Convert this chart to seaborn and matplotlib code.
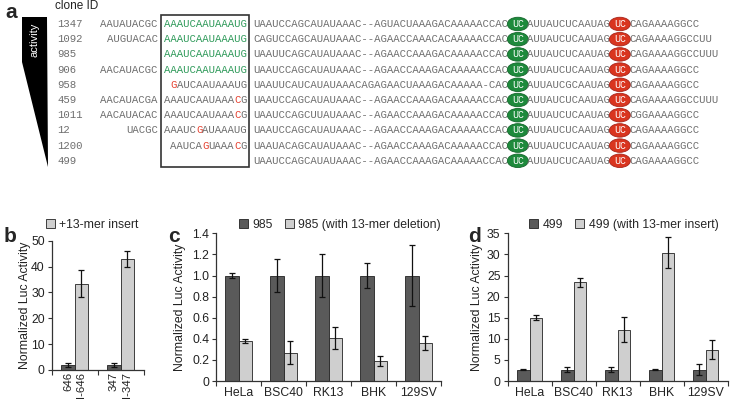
import numpy as np
import pandas as pd
import matplotlib
matplotlib.use("Agg")
import matplotlib.pyplot as plt
import seaborn as sns
from matplotlib.patches import Ellipse, Rectangle, Polygon, Patch
from matplotlib.ticker import FuncFormatter

# =========================
# DATA - panel a (alignment)
# =========================
clone_ids = ["1347", "1092", "985", "906", "958", "459", "1011", "12", "1200", "499"]
prefixes = ["AAUAUACGC", "AUGUACAC", "", "AACAUACGC", "", "AACAUACGA",
            "AACAUACAC", "UACGC", "", ""]
inserts = ["AAAUCAAUAAAUG", "AAAUCAAUAAAUG", "AAAUCAAUAAAUG", "AAAUCAAUAAAUG",
           "GAUCAAUAAAUG", "AAAUCAAUAAACG", "AAAUCAAUAAACG", "AAAUCGAUAAAUG",
           "AAUCAGUAAACG", ""]
insert_green = [True, True, True, True, False, False, False, False, False, False]
insert_red_pos = [[], [], [], [], [0], [11], [11], [5], [5, 10], []]
seq_a = ["UAAUCCAGCAUAUAAAC--AGUACUAAAGACAAAAACCAC",
         "CAGUCCAGCAUAUAAAC--AGAACCAAACACAAAAACCAC",
         "UAAUUCAGCAUAUAAAC--AGAACCAAAGACAAAAACCAC",
         "UAAUCCAGCAUAUAAAC--AGAACCAAAGACAAAAACCAC",
         "UAAUUCAUCAUAUAAACAGAGAACUAAAGACAAAAA-CAC",
         "UAAUCCAGCAUAUAAAC--AGAACCAAAGACAAAAACCAC",
         "UAAUCCAGCUUAUAAAC--AGAACCAAAGACAAAAACCAC",
         "UAAUCCAGCAUAUAAAC--AGAACCAAAGACAAAAACCAC",
         "UAAUACAGCAUAUAAAC--AGAACCAAAGACAAAAACCAC",
         "UAAUCCAGCAUAUAAAC--AGAACCAAAGACAAAAACCAC"]
seq_b = ["AUUAUCUCAAUAG"] * 4 + ["AUUAUCGCAAUAG"] + ["AUUAUCUCAAUAG"] * 5
seq_c = ["CAGAAAAGGCC", "CAGAAAAGGCCUU", "CAGAAAAGGCCUUU", "CAGAAAAGGCC",
         "CAGAAAAGGCC", "CAGAAAAGGCCUUU", "CGGAAAAGGCC", "CAGAAAAGGCC",
         "CAGAAAAGGCC", "CAGAAAAGGCC"]

# =========================
# DATA - panels b, c, d
# =========================
b_groups = ["646", "347"]
b_tick_labels = ["646", "I-646", "347", "I-347"]
b_series = ["wt", "+13-mer insert"]
b_wt = [2.0, 2.0]
b_wt_err = [0.9, 0.9]
b_ins = [33.3, 43.0]
b_ins_err = [5.2, 3.2]

cells = ["HeLa", "BSC40", "RK13", "BHK", "129SV"]

c_series = ["985", "985 (with 13-mer deletion)"]
c_wt = [1.0, 1.0, 1.0, 1.0, 1.0]
c_wt_err = [0.02, 0.155, 0.2, 0.115, 0.29]
c_del = [0.38, 0.27, 0.41, 0.19, 0.36]
c_del_err = [0.02, 0.105, 0.105, 0.05, 0.07]

d_series = ["499", "499 (with 13-mer insert)"]
d_wt = [2.7, 2.7, 2.7, 2.7, 2.7]
d_wt_err = [0.15, 0.6, 0.65, 0.15, 1.3]
d_ins = [15.0, 23.4, 12.2, 30.4, 7.4]
d_ins_err = [0.6, 1.1, 3.0, 3.7, 2.3]

# =========================
# STYLE
# =========================
sns.set_theme(style="white")
plt.rcParams["font.family"] = ["Liberation Sans", "DejaVu Sans"]

DARK = "#5a5a5a"
LIGHT = "#cfcfcf"
EDGE = "#222222"
GRAY_TXT = "#6e6e6e"
GREEN_TXT = "#2f9a5a"
RED_TXT = "#e5402f"
MONO = "Liberation Mono"
FS_MONO = 7.65
CW = 0.6 * FS_MONO * 100 / 72  # char width in px

W, H = 732, 400
fig = plt.figure(figsize=(W / 100, H / 100), dpi=100)

# =========================
# PANEL A
# =========================
ax_a = fig.add_axes([0, 0, 1, 1], zorder=0)
ax_a.set_xlim(0, W)
ax_a.set_ylim(H, 0)
ax_a.axis("off")

X0 = 100.3
Y0 = 24.0
DY = 15.2


def col_x(col):
    return X0 + col * CW


ax_a.text(5, 12, "a", fontsize=15, fontweight="bold", va="center", ha="left")
ax_a.text(55, 6, "clone ID", fontsize=8.5, va="center", ha="left", color="#222")

# activity wedge
ax_a.add_patch(Polygon([(22, 17), (47, 17), (48, 167), (22, 62)],
                       closed=True, facecolor="black", edgecolor="none"))
ax_a.text(34, 40, "activity", rotation=90, color="white", fontsize=8,
          ha="center", va="center")

for r, cid in enumerate(clone_ids):
    y = Y0 + r * DY
    ax_a.text(57.5, y, cid, family=MONO, fontsize=FS_MONO, color=GRAY_TXT,
              ha="left", va="center")
    pre = prefixes[r]
    if pre:
        ax_a.text(col_x(9 - len(pre)), y, pre, family=MONO, fontsize=FS_MONO,
                  color=GRAY_TXT, ha="left", va="center")
    ins = inserts[r]
    if ins:
        start = 23 - len(ins)
        base = GREEN_TXT if insert_green[r] else GRAY_TXT
        colors = [RED_TXT if i in insert_red_pos[r] else base for i in range(len(ins))]
        # split into runs of same colour
        i = 0
        while i < len(ins):
            j = i
            while j < len(ins) and colors[j] == colors[i]:
                j += 1
            ax_a.text(col_x(start + i), y, ins[i:j], family=MONO, fontsize=FS_MONO,
                      color=colors[i], ha="left", va="center")
            i = j
    col = 24
    ax_a.text(col_x(col), y, seq_a[r], family=MONO, fontsize=FS_MONO,
              color=GRAY_TXT, ha="left", va="center")
    col += len(seq_a[r])
    cx = col_x(col + 1.5)
    ax_a.add_patch(Ellipse((cx, y), 21, 13.5, facecolor="#1e8a3c",
                           edgecolor="#14662b", lw=0.6, zorder=3))
    ax_a.text(cx, y, "UC", family=MONO, fontsize=7.2, color="white",
              ha="center", va="center", zorder=4)
    col += 3
    ax_a.text(col_x(col), y, seq_b[r], family=MONO, fontsize=FS_MONO,
              color=GRAY_TXT, ha="left", va="center")
    col += len(seq_b[r])
    cx = col_x(col + 1.5)
    ax_a.add_patch(Ellipse((cx, y), 21, 13.5, facecolor="#d9351f",
                           edgecolor="#a8241a", lw=0.6, zorder=3))
    ax_a.text(cx, y, "UC", family=MONO, fontsize=7.2, color="white",
              ha="center", va="center", zorder=4)
    col += 3
    ax_a.text(col_x(col), y, seq_c[r], family=MONO, fontsize=FS_MONO,
              color=GRAY_TXT, ha="left", va="center")

# 13-mer box
bx0 = col_x(9.55)
bx1 = col_x(23.35)
ax_a.add_patch(Rectangle((bx0, 15), bx1 - bx0, 152, fill=False,
                         edgecolor="#333", lw=1.2))


# =========================
# BAR PANELS
# =========================
def bar_panel(rect, cats, series, v1, e1, v2, e2, ylim, yticks):
    ax = fig.add_axes(rect)
    df = pd.DataFrame({
        "cat": cats + cats,
        "val": v1 + v2,
        "series": [series[0]] * len(cats) + [series[1]] * len(cats),
    })
    sns.barplot(data=df, x="cat", y="val", hue="series", order=cats,
                hue_order=series, palette=[DARK, LIGHT], width=0.58,
                edgecolor=EDGE, linewidth=0.6, errorbar=None, legend=False, ax=ax)
    bars = list(ax.containers)[:2]
    for cont, err in zip(bars, [e1, e2]):
        xs = [p.get_x() + p.get_width() / 2 for p in cont]
        ys = [p.get_height() for p in cont]
        ax.errorbar(xs, ys, yerr=err, fmt="none", ecolor="#111",
                    elinewidth=0.9, capsize=2.2, capthick=0.9)
    ax.set_xlim(-0.5, len(cats) - 0.5)
    ax.set_ylim(*ylim)
    ax.set_yticks(yticks)
    ax.yaxis.set_major_formatter(FuncFormatter(
        lambda v, p: "0" if v == 0 else (f"{v:.1f}" if ylim[1] < 5 else f"{v:.0f}")))
    ax.set_xticks(np.arange(-0.5, len(cats), 1.0), minor=True)
    ax.tick_params(axis="x", which="major", length=0, labelsize=8.8, pad=4,
                   colors="#222")
    ax.tick_params(axis="x", which="minor", length=3.5, width=0.8, direction="out",
                   color="#333")
    ax.tick_params(axis="y", length=3, width=0.8, direction="out",
                   labelsize=8.8, pad=2, color="#333", labelcolor="#222")
    ax.tick_params(left=True, bottom=True, which="both")
    sns.despine(ax=ax)
    for s in ["left", "bottom"]:
        ax.spines[s].set_color("#333")
        ax.spines[s].set_linewidth(0.9)
    ax.set_xlabel("")
    ax.set_ylabel("Normalized Luc Activity", fontsize=8.8, color="#222")
    ax.set_facecolor("none")
    return ax, bars


def legend_at(handles, labels, x_px, y_px):
    fig.legend(handles, labels, loc="center left",
               bbox_to_anchor=(x_px / W, 1 - y_px / H), ncol=len(labels),
               frameon=False, fontsize=8.8, handlelength=0.75, handleheight=0.75,
               handletextpad=0.35, columnspacing=1.0, borderaxespad=0, borderpad=0)


def sq(color):
    return Patch(facecolor=color, edgecolor=EDGE, linewidth=0.6)


# panel b
ax_b, bars_b = bar_panel([51.7 / W, 30 / H, 91.8 / W, 129.3 / H], b_groups, b_series,
                         b_wt, b_wt_err, b_ins, b_ins_err, (0, 50), [0, 10, 20, 30, 40, 50])
centers = sorted([p.get_x() + p.get_width() / 2 for c in bars_b for p in c])
ax_b.set_xticks(centers)
ax_b.set_xticklabels(b_tick_labels, rotation=90, va="top", fontsize=8.2)
ax_b.tick_params(axis="x", which="major", pad=1.5)
ax_b.yaxis.set_label_coords(-0.225, 0.5)
legend_at([sq(LIGHT)], [b_series[1]], 46, 225)

# panel c
ax_c, _ = bar_panel([216 / W, 19 / H, 225 / W, 147.7 / H], cells, c_series,
                    c_wt, c_wt_err, c_del, c_del_err, (0, 1.4),
                    [0, 0.2, 0.4, 0.6, 0.8, 1.0, 1.2, 1.4])
ax_c.yaxis.set_label_coords(-0.133, 0.5)
legend_at([sq(DARK), sq(LIGHT)], c_series, 239, 225)

# panel d
ax_d, _ = bar_panel([507.5 / W, 19 / H, 220 / W, 147.7 / H], cells, d_series,
                    d_wt, d_wt_err, d_ins, d_ins_err, (0, 35),
                    [0, 5, 10, 15, 20, 25, 30, 35])
ax_d.yaxis.set_label_coords(-0.111, 0.5)
legend_at([sq(DARK), sq(LIGHT)], d_series, 529, 225)

# panel letters
fig.text(4 / W, 1 - 236 / H, "b", fontsize=15, fontweight="bold", va="center")
fig.text(168 / W, 1 - 236 / H, "c", fontsize=15, fontweight="bold", va="center")
fig.text(468 / W, 1 - 236 / H, "d", fontsize=15, fontweight="bold", va="center")

fig.savefig("out.png", dpi=100)
plt.close(fig)
